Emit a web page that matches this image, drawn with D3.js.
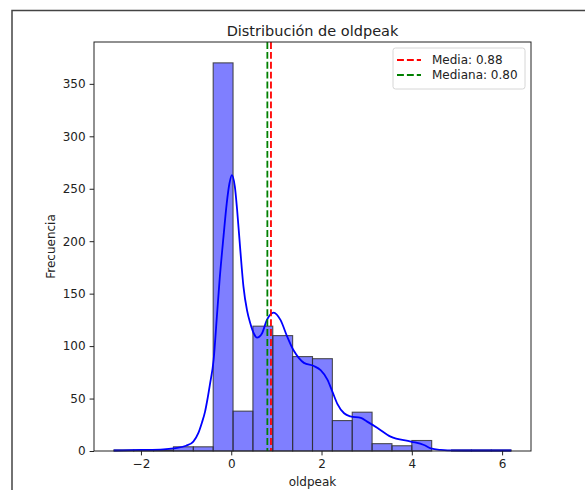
<!DOCTYPE html>
<html>
<head>
<meta charset="utf-8">
<script src="https://cdn.jsdelivr.net/npm/d3@7"></script>
<style>
  body { margin: 0; background: #fff; }
  svg { display: block; font-family: "DejaVu Sans", sans-serif; }
</style>
</head>
<body>
<svg id="chart" width="585" height="490"></svg>
<script>
// ===== DATA =====
// 20 bins spanning the oldpeak range
const binEdges = [-2.6, -2.16, -1.72, -1.28, -0.84, -0.4, 0.04, 0.48, 0.92, 1.36, 1.8,
                  2.24, 2.68, 3.12, 3.56, 4.0, 4.44, 4.88, 5.32, 5.76, 6.2];
const binCounts = [1, 1, 1, 4, 4, 370, 38, 119, 110, 90, 88, 29, 37, 7, 5, 10, 0, 1, 1, 1];

// KDE curve (scaled to counts)
const kdeX = [-2.6, -2.0, -1.5, -1.28, -1.0, -0.84, -0.73, -0.65, -0.58, -0.53, -0.47, -0.39,
              -0.32, -0.26, -0.17, -0.1, -0.04, 0.015, 0.08, 0.13, 0.2, 0.27, 0.35, 0.42, 0.5,
              0.57, 0.68, 0.79, 0.94, 1.09, 1.24, 1.38, 1.5, 1.61, 1.83, 1.98, 2.13, 2.24,
              2.35, 2.5, 2.64, 2.87, 3.01, 3.24, 3.53, 3.98, 4.27, 4.42, 4.64, 4.79, 5.2, 5.7, 6.2];
const kdeY = [0.5, 1, 1.6, 2.5, 5, 9, 17, 27, 37.5, 48.6, 64, 87,
              127, 162, 205, 236, 255, 263, 252, 230, 192, 157, 134, 122, 112,
              108, 112, 125, 132, 125, 109, 96, 88.6, 84, 81, 77, 68, 56.6,
              45, 36, 33, 31.5, 28, 22, 13.7, 9, 5.7, 2.5, 1, 0.6, 0.5, 0.5, 0.5];

const meanVal = 0.88;
const medianVal = 0.80;
const xTicks = [-2, 0, 2, 4, 6];
const yTicks = [0, 50, 100, 150, 200, 250, 300, 350];
const legendItems = [
    { label: 'Media: 0.88',   color: 'red' },
    { label: 'Mediana: 0.80', color: 'green' },
];

// ===== LAYOUT =====
const svg = d3.select('#chart');
const M = { left: 94, right: 531, top: 42, bottom: 451 };
const FS = 12;            // ~10pt at this figure's dpi
const DASH = '6.9,3';     // matplotlib '--' at lw 1.5

const x = d3.scaleLinear().domain([-3.04, 6.64]).range([M.left, M.right]);
const y = d3.scaleLinear().domain([0, 389.9]).range([M.bottom, M.top]);

// figure frame (left & top edges visible in the crop)
svg.append('path')
    .attr('d', `M12,490 L12,10.5 L585,10.5`)
    .attr('fill', 'none')
    .attr('stroke', '#444')
    .attr('stroke-width', 1.5);

// ===== BARS =====
const bins = binCounts.map((c, i) => ({ x0: binEdges[i], x1: binEdges[i + 1], n: c }));
svg.append('g').selectAll('rect')
    .data(bins)
    .enter().append('rect')
    .attr('x', d => x(d.x0))
    .attr('y', d => y(d.n))
    .attr('width', d => x(d.x1) - x(d.x0))
    .attr('height', d => y(0) - y(d.n))
    .attr('fill', 'rgba(0,0,255,0.5)')
    .attr('stroke', '#333')
    .attr('stroke-opacity', 0.85)
    .attr('stroke-width', 1.1);

// ===== KDE =====
const line = d3.line()
    .x(d => x(d[0]))
    .y(d => y(d[1]))
    .curve(d3.curveMonotoneX);

svg.append('path')
    .datum(kdeX.map((v, i) => [v, kdeY[i]]))
    .attr('d', line)
    .attr('fill', 'none')
    .attr('stroke', 'blue')
    .attr('stroke-width', 1.8);

// ===== MEAN / MEDIAN =====
[[meanVal, 'red'], [medianVal, 'green']].forEach(([v, c]) => {
    svg.append('line')
        .attr('x1', x(v)).attr('x2', x(v))
        .attr('y1', M.top).attr('y2', M.bottom)
        .attr('stroke', c)
        .attr('stroke-width', 1.8)
        .attr('stroke-dasharray', DASH);
});

// ===== AXES =====
const fmt = d => d < 0 ? '\u2212' + Math.abs(d) : String(d);

const xAxis = svg.append('g')
    .attr('transform', `translate(0,${M.bottom})`)
    .call(d3.axisBottom(x).tickValues(xTicks).tickFormat(fmt).tickSize(4.4).tickPadding(4.4));
const yAxis = svg.append('g')
    .attr('transform', `translate(${M.left},0)`)
    .call(d3.axisLeft(y).tickValues(yTicks).tickSize(4.4).tickPadding(4));

[xAxis, yAxis].forEach(g => {
    g.select('.domain').remove();
    g.selectAll('line').attr('stroke', '#222').attr('stroke-width', 1);
    g.selectAll('text').attr('fill', '#222').style('font-size', FS + 'px')
        .style('font-family', '"DejaVu Sans", sans-serif');
});

// spines
svg.append('rect')
    .attr('x', M.left).attr('y', M.top)
    .attr('width', M.right - M.left).attr('height', M.bottom - M.top)
    .attr('fill', 'none')
    .attr('stroke', '#222')
    .attr('stroke-width', 1);

// ===== TEXT =====
svg.append('text')
    .attr('x', (M.left + M.right) / 2).attr('y', 35.5)
    .attr('text-anchor', 'middle')
    .style('font-size', '14.5px')
    .attr('fill', '#222')
    .text('Distribución de oldpeak');

svg.append('text')
    .attr('x', (M.left + M.right) / 2).attr('y', 486)
    .attr('text-anchor', 'middle')
    .style('font-size', FS + 'px')
    .attr('fill', '#222')
    .text('oldpeak');

svg.append('text')
    .attr('transform', `translate(55,${(M.top + M.bottom) / 2}) rotate(-90)`)
    .attr('text-anchor', 'middle')
    .style('font-size', FS + 'px')
    .attr('fill', '#222')
    .text('Frecuencia');

// ===== LEGEND =====
const legend = svg.append('g').attr('transform', 'translate(393,48)');
legend.append('rect')
    .attr('width', 132).attr('height', 41)
    .attr('rx', 2.5)
    .attr('fill', 'rgba(255,255,255,0.8)')
    .attr('stroke', '#d6d6d6')
    .attr('stroke-width', 1);

legendItems.forEach((d, i) => {
    const yy = 12 + i * 15;
    legend.append('line')
        .attr('x1', 4).attr('x2', 28)
        .attr('y1', yy).attr('y2', yy)
        .attr('stroke', d.color)
        .attr('stroke-width', 1.8)
        .attr('stroke-dasharray', DASH);
    legend.append('text')
        .attr('x', 39).attr('y', yy + 4.3)
        .style('font-size', FS + 'px')
        .attr('fill', '#222')
        .text(d.label);
});
</script>
</body>
</html>
